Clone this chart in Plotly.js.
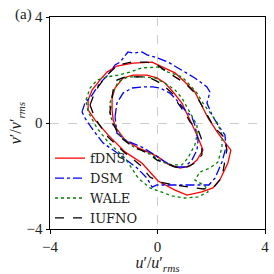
<!DOCTYPE html>
<html><head><meta charset="utf-8">
<script src="https://cdn.plot.ly/plotly-3.0.1.min.js"></script>
<style>html,body{margin:0;padding:0;background:#fff}#c{width:274px;height:274px}</style>
</head><body><div id="c"></div>
<script>
// fDNS
const fdnsOuterX = [-2.58,-2.43,-2.14,-1.88,-1.51,-0.91,-0.20,0.09,0.65,1.02,1.39,1.58,1.88,2.25,2.51,2.73,2.62,2.32,2.06,1.65,1.10,0.65,0.02,-0.58,-1.21,-1.84,-2.32,-2.58,-2.58];
const fdnsOuterY = [0.87,1.25,1.62,1.92,2.15,2.26,2.30,2.15,1.89,1.55,1.17,0.79,0.19,-0.38,-0.72,-1.02,-1.51,-2.15,-2.45,-2.60,-2.72,-2.53,-2.19,-1.51,-1.09,-0.45,0.11,0.49,0.87];
const fdnsInnerX = [-1.69,-1.58,-1.28,-0.91,-0.39,-0.02,0.28,0.58,0.91,1.13,1.32,1.47,1.69,1.47,1.21,0.84,0.39,0.02,-0.28,-0.72,-1.21,-1.54,-1.65,-1.69,-1.69];
const fdnsInnerY = [0.94,1.32,1.70,1.81,1.81,1.70,1.51,1.17,0.75,0.30,-0.08,-0.45,-1.02,-1.40,-1.62,-1.70,-1.55,-1.28,-1.13,-0.94,-0.64,-0.19,0.11,0.49,0.94];
// DSM
const dsmOuterX = [-2.81,-2.70,-2.43,-2.14,-1.84,-1.58,-1.39,-1.10,-0.91,-0.58,-0.39,-0.09,0.39,0.91,1.39,1.84,1.95,1.84,2.03,2.25,2.51,2.55,2.40,2.14,1.91,1.21,0.46,-0.02,-0.20,-0.39,-0.76,-1.39,-2.03,-2.40,-2.70,-2.81];
const dsmOuterY = [0.42,0.75,1.06,1.51,1.81,2.19,2.30,2.68,2.64,2.68,2.57,2.49,2.30,2.00,1.70,1.36,1.17,0.75,0.30,-0.08,-0.45,-0.91,-1.47,-2.08,-2.34,-2.34,-2.34,-2.34,-2.42,-2.08,-1.70,-1.21,-0.75,-0.26,0.19,0.42];
const dsmInnerX = [-1.58,-1.51,-1.28,-0.95,-0.54,-0.17,0.09,0.46,0.65,1.02,1.28,1.39,1.51,1.47,1.28,1.02,0.65,0.28,-0.09,-0.58,-1.21,-1.51,-1.58];
const dsmInnerY = [0.23,0.75,1.13,1.32,1.36,1.36,1.32,1.13,0.94,0.49,0.23,-0.08,-0.64,-1.02,-1.40,-1.66,-1.66,-1.47,-1.21,-0.91,-0.64,-0.38,0.23];
// WALE
const waleOuterX = [-2.66,-2.51,-2.25,-1.88,-1.47,-1.02,-0.58,-0.20,0.02,0.39,0.91,1.21,1.47,1.69,2.03,2.21,2.40,2.40,2.25,1.95,1.58,1.39,1.77,1.88,1.51,1.02,0.54,0.09,-0.28,-0.72,-1.21,-1.84,-2.25,-2.58,-2.66];
const waleOuterY = [0.87,1.32,1.62,1.74,1.81,1.92,2.08,2.11,2.11,1.92,1.74,1.43,1.13,0.75,0.30,0.04,-0.45,-0.91,-1.47,-1.70,-1.85,-2.15,-2.38,-2.60,-2.79,-2.83,-2.75,-2.60,-2.45,-2.08,-1.32,-0.72,-0.19,0.42,0.87];
const waleInnerX = [-1.77,-1.65,-1.47,-1.10,-0.58,-0.09,0.39,0.65,0.91,1.10,1.28,1.47,1.47,1.39,1.13,0.91,0.54,0.17,-0.20,-0.84,-1.32,-1.65,-1.77,-1.77];
const waleInnerY = [0.75,1.17,1.55,1.74,1.74,1.70,1.43,1.25,0.94,0.60,0.23,-0.08,-0.45,-0.83,-1.32,-1.58,-1.58,-1.47,-1.21,-0.94,-0.57,-0.08,0.38,0.75];
// IUFNO
const iufnoOuterX = [-2.51,-2.40,-2.21,-1.88,-1.47,-0.95,-0.39,-0.02,0.54,1.02,1.39,1.69,1.88,2.06,2.21,2.51,2.58,2.51,2.40,2.10,1.73,1.21,0.61,0.09,-0.28,-0.65,-1.21,-1.84,-2.21,-2.40,-2.51];
const iufnoOuterY = [0.68,0.98,1.36,1.81,2.19,2.30,2.30,2.19,1.81,1.51,1.13,0.60,0.23,-0.08,-0.26,-0.57,-1.02,-1.47,-2.04,-2.42,-2.49,-2.42,-2.34,-2.23,-2.04,-1.58,-1.13,-0.53,0.00,0.38,0.68];
const iufnoInnerX = [-1.69,-1.65,-1.51,-1.21,-0.72,-0.35,0.02,0.28,0.54,0.76,1.02,1.21,1.51,1.65,1.65,1.39,1.02,0.65,0.28,-0.02,-0.35,-0.91,-1.39,-1.69,-1.77,-1.69];
const iufnoInnerY = [0.94,1.25,1.62,1.74,1.74,1.74,1.55,1.36,1.13,0.75,0.38,0.04,-0.26,-0.64,-1.21,-1.51,-1.70,-1.66,-1.51,-1.40,-1.13,-0.91,-0.53,0.04,0.42,0.94];

const names = ['fDNS','DSM','WALE','IUFNO'];
const tickVals = [-4,0,4];
const tickText = ['\u22124','0','4'];

const series = [
  {name:names[0], outer:[fdnsOuterX,fdnsOuterY], inner:[fdnsInnerX,fdnsInnerY], color:'#ff0000', dash:'solid'},
  {name:names[1], outer:[dsmOuterX,dsmOuterY], inner:[dsmInnerX,dsmInnerY], color:'#0000ff', dash:'dashdot'},
  {name:names[2], outer:[waleOuterX,waleOuterY], inner:[waleInnerX,waleInnerY], color:'#008000', dash:'dot'},
  {name:names[3], outer:[iufnoOuterX,iufnoOuterY], inner:[iufnoInnerX,iufnoInnerY], color:'#000000', dash:'dash'}
];
const traces = [];
series.forEach(s => {
  traces.push({x:s.outer[0], y:s.outer[1], mode:'lines', name:s.name, legendgroup:s.name,
    line:{color:s.color, dash:s.dash, width:1.3}});
  traces.push({x:s.inner[0], y:s.inner[1], mode:'lines', name:s.name, legendgroup:s.name, showlegend:false,
    line:{color:s.color, dash:s.dash, width:1.3}});
});

const F = 'Liberation Serif';
const FL = 'DejaVu Serif';
const axisBase = {range:[-4,4], tickvals:tickVals, ticktext:tickText, ticks:'outside', ticklen:3.5, tickwidth:1,
  tickcolor:'#000', showline:true, linecolor:'#000', linewidth:1, mirror:true, zeroline:false,
  showgrid:true, gridcolor:'#b8b8b8', griddash:'dash', gridwidth:0.7,
  tickfont:{family:F, size:15, color:'#222'}};

const layout = {
  width:274, height:274, margin:{l:50, r:9, t:17, b:45},
  paper_bgcolor:'#fff', plot_bgcolor:'#fff', font:{family:F, color:'#222'},
  xaxis:Object.assign({}, axisBase, {title:{text:'<i>u</i>′/<i>u</i>′<sub><i>rms</i></sub>', font:{family:F, size:16}, standoff:2}}),
  yaxis:Object.assign({}, axisBase, {title:{text:'<i>v</i>′/<i>v</i>′<sub><i>rms</i></sub>', font:{family:F, size:16}, standoff:0}}),
  legend:{x:0.0, y:-0.02, xanchor:'left', yanchor:'bottom', bgcolor:'rgba(0,0,0,0)', font:{family:FL, size:13, color:'#222'},
    tracegroupgap:0, itemwidth:30},
  showlegend:true,
  annotations:[{text:'(a)', xref:'paper', yref:'paper', x:-0.17, y:1.01, xanchor:'left', yanchor:'middle', showarrow:false,
    font:{family:F, size:15, color:'#222'}}]
};
Plotly.newPlot('c', traces, layout, {staticPlot:true, displayModeBar:false});
</script></body></html>
